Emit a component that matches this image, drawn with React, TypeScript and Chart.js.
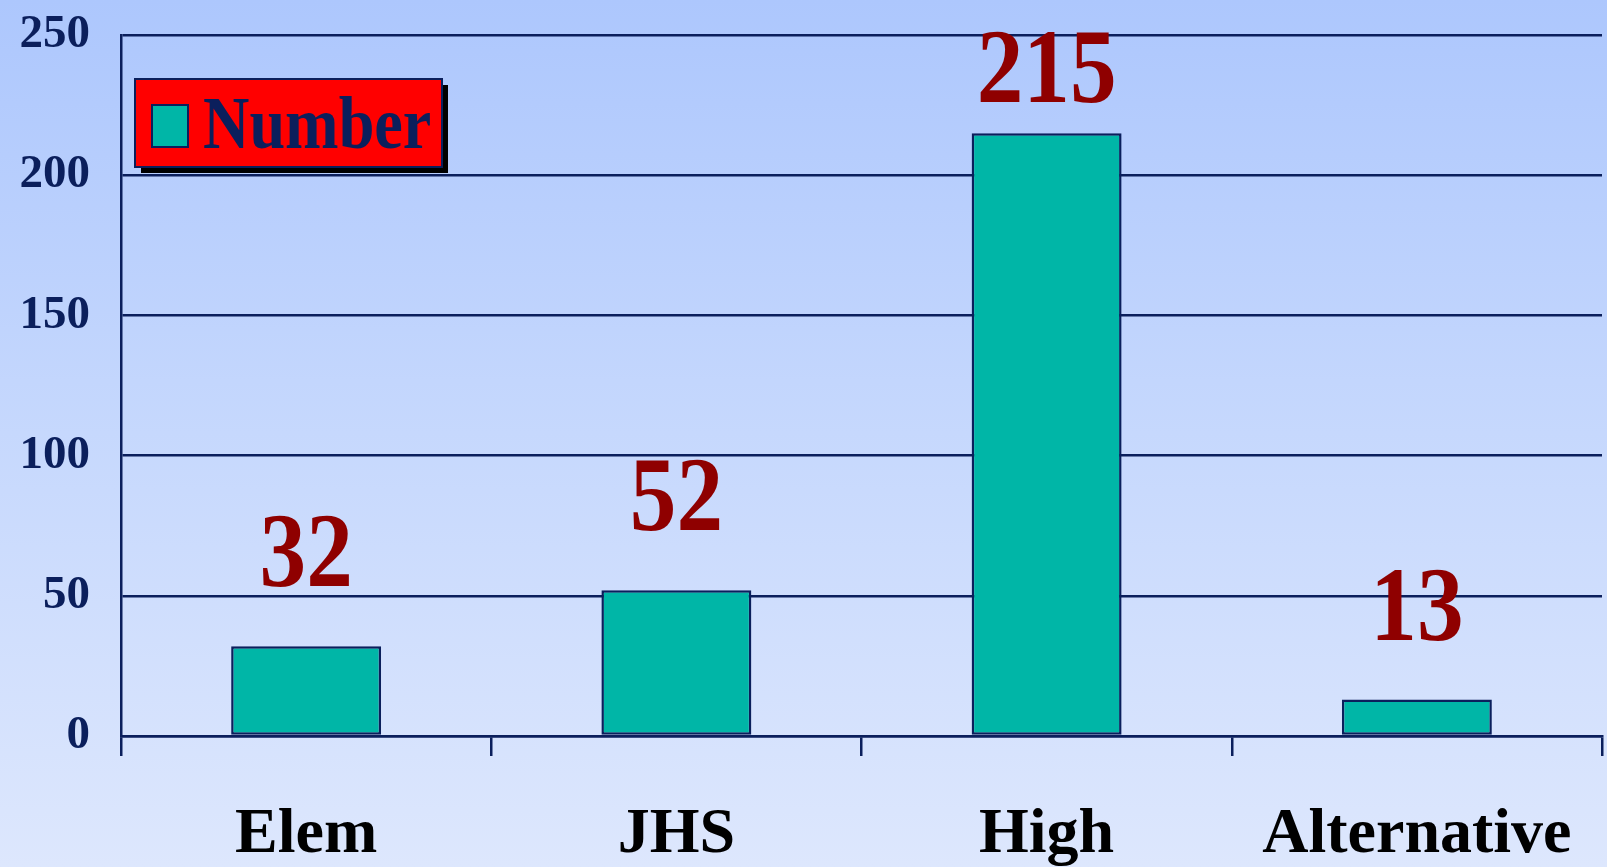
import React, { useEffect, useRef } from "react";
import { Chart, registerables } from "chart.js";

Chart.register(...registerables);

const categories = ["Elem", "JHS", "High", "Alternative"];
const numberValues = [32, 52, 215, 13];
const seriesName = "Number";
const yTicks = [0, 50, 100, 150, 200, 250];

const NAVY = "#0b1f5c";
const TEAL = "#00b6a7";
const DARK_RED = "#8f0000";
const SQUASH = 0.88;

const valueLabelPlugin = {
  id: "valueLabels",
  afterDatasetsDraw(chart: any) {
    const { ctx, chartArea } = chart;
    const meta = chart.getDatasetMeta(0);
    ctx.save();
    ctx.fillStyle = DARK_RED;
    ctx.font = "bold 106px 'Liberation Serif', 'Times New Roman', serif";
    ctx.textAlign = "center";
    ctx.textBaseline = "alphabetic";
    meta.data.forEach((bar: any, i: number) => {
      const v = chart.data.datasets[0].data[i];
      const baseline = Math.max(bar.y - 60, chartArea.top + 67);
      ctx.save();
      ctx.translate(bar.x, baseline);
      ctx.scale(SQUASH, 1);
      ctx.fillText(String(v), 0, 0);
      ctx.restore();
    });
    ctx.restore();
  },
};

const legendPlugin = {
  id: "boxLegend",
  afterDraw(chart: any) {
    const { ctx } = chart;
    const x = 135, y = 79, w = 307, h = 88;
    ctx.save();
    ctx.fillStyle = "#000000";
    ctx.fillRect(x + 6, y + 6, w, h);
    ctx.fillStyle = "#ff0000";
    ctx.fillRect(x, y, w, h);
    ctx.strokeStyle = NAVY;
    ctx.lineWidth = 2;
    ctx.strokeRect(x, y, w, h);
    ctx.fillStyle = TEAL;
    ctx.fillRect(152, 105, 36, 42);
    ctx.strokeRect(152, 105, 36, 42);
    ctx.fillStyle = NAVY;
    ctx.font = "bold 73px 'Liberation Serif', 'Times New Roman', serif";
    ctx.textAlign = "left";
    ctx.textBaseline = "alphabetic";
    ctx.translate(203, 148);
    ctx.scale(SQUASH, 1);
    ctx.fillText(seriesName, 0, 0);
    ctx.restore();
  },
};

export default function App() {
  const canvasRef = useRef<HTMLCanvasElement | null>(null);

  useEffect(() => {
    const canvas = canvasRef.current;
    if (!canvas) return;
    const chart = new Chart(canvas, {
      type: "bar",
      data: {
        labels: categories,
        datasets: [
          {
            label: seriesName,
            data: numberValues,
            backgroundColor: TEAL,
            borderColor: NAVY,
            borderWidth: 2.5,
            borderSkipped: false,
            categoryPercentage: 1,
            barPercentage: 0.405,
          },
        ],
      },
      options: {
        animation: false,
        responsive: false,
        maintainAspectRatio: false,
        layout: { padding: { top: 35, right: 5, left: 0, bottom: 0 } },
        plugins: {
          legend: { display: false },
          tooltip: { enabled: false },
        },
        scales: {
          x: {
            offset: true,
            grid: {
              offset: true,
              drawOnChartArea: false,
              drawTicks: true,
              tickLength: 20,
              color: NAVY,
              lineWidth: 2.5,
            },
            border: { display: true, color: NAVY, width: 2.5 },
            ticks: {
              color: "#000000",
              padding: 41,
              maxRotation: 0,
              autoSkip: false,
              font: { family: "'Liberation Serif', 'Times New Roman', serif", size: 64, weight: "bold" },
            },
            afterFit(scale: any) {
              scale.height = 131;
              scale.paddingLeft = 0;
              scale.paddingRight = 0;
              scale.paddingTop = 0;
              scale.paddingBottom = 0;
            },
          },
          y: {
            min: 0,
            max: 250,
            afterBuildTicks(scale: any) {
              scale.ticks = yTicks.map((v) => ({ value: v }));
            },
            grid: {
              color: NAVY,
              lineWidth: 2.5,
              drawTicks: false,
            },
            border: { display: true, color: NAVY, width: 2.5 },
            ticks: {
              color: NAVY,
              padding: 31,
              font: { family: "'Liberation Serif', 'Times New Roman', serif", size: 47, weight: "bold" },
            },
            afterFit(scale: any) {
              scale.width = 121;
              scale.paddingTop = 0;
              scale.paddingBottom = 0;
              scale.paddingLeft = 0;
              scale.paddingRight = 0;
            },
          },
        },
      },
      plugins: [valueLabelPlugin, legendPlugin],
    } as any);
    return () => chart.destroy();
  }, []);

  return (
    <div
      style={{
        position: "fixed",
        left: 0,
        top: 0,
        width: 1607,
        height: 867,
        background: "linear-gradient(to bottom, #adc7fd 0%, #c6d8fd 50%, #dde7fd 100%)",
      }}
    >
      <canvas ref={canvasRef} width={1607} height={867} style={{ display: "block" }} />
    </div>
  );
}
